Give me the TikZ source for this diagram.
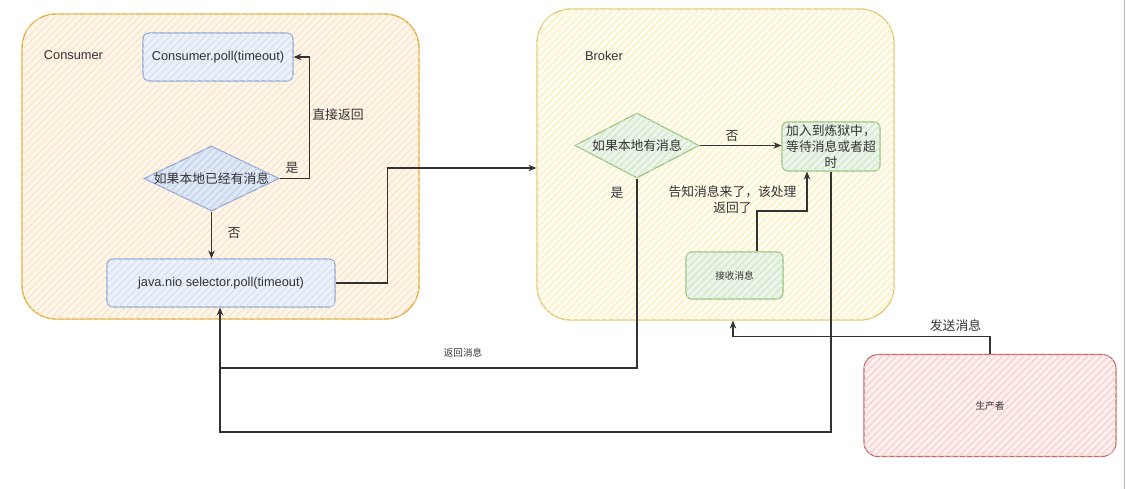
\documentclass[tikz,border=0pt]{standalone}
\usepackage{fontspec}
\setmainfont{Liberation Sans}
\newfontfamily\cjk{Noto Sans CJK SC}
\usetikzlibrary{patterns.meta,arrows.meta,shapes.geometric}
\definecolor{conS}{HTML}{E0AE3A}
\definecolor{conF}{HTML}{FFF6EC}
\definecolor{conH}{HTML}{FDE3C6}
\definecolor{broS}{HTML}{E2C872}
\definecolor{broF}{HTML}{FFFCF2}
\definecolor{broH}{HTML}{FBF0C4}
\definecolor{bluS}{HTML}{8DA8D2}
\definecolor{bluF}{HTML}{EDF2FA}
\definecolor{bluH}{HTML}{D6E2F5}
\definecolor{dmdF}{HTML}{E0E8F5}
\definecolor{dmdH}{HTML}{C4D3EC}
\definecolor{grnS}{HTML}{93C27C}
\definecolor{grnF}{HTML}{EDF5EA}
\definecolor{grnH}{HTML}{D2E8CC}
\definecolor{redS}{HTML}{C56A66}
\definecolor{redF}{HTML}{FDF0EF}
\definecolor{redH}{HTML}{F8CFCD}
\definecolor{ink}{HTML}{333333}
\tikzset{
  x=1pt, y=-1pt,
  hatch/.style 2 args={fill=#1, postaction={pattern={Lines[angle=45,distance=5pt,line width=1.3pt]}, pattern color=#2}},
  container/.style={rectangle, line width=1.3pt, rounded corners=34pt, inner sep=0pt},
  box/.style={rectangle, line width=1.1pt, rounded corners=6pt, inner sep=0pt, text=ink},
  dmd/.style={diamond, line width=1.1pt, inner sep=0pt, minimum width=#1},
  lab/.style={text=ink, inner sep=1pt, font=\fontsize{12.8}{15}\selectfont},
  zh/.style={text=ink, inner sep=1pt, font=\cjk\fontsize{12.8}{16}\selectfont},
  zhs/.style={text=ink, inner sep=1pt, font=\cjk\fontsize{9.6}{12}\selectfont},
  arr/.style={draw=ink, line width=1.1pt, -{Stealth[length=8pt,width=6.5pt]}},
  ln/.style={draw=ink, line width=1.1pt},
}
\begin{document}
\begin{tikzpicture}
\useasboundingbox (0,0) rectangle (1126,489);
\fill[white] (0,0) rectangle (1126,489);
% containers
\node[container, draw=conS, hatch={conF}{conH}, minimum width=397pt, minimum height=305pt] (cons) at (220.5,166.5) {};
\node[container, draw=broS, hatch={broF}{broH}, minimum width=357pt, minimum height=311pt] (bro) at (715.5,164.5) {};
\node[lab] (consl) at (73.5,55.5) {Consumer};
\node[lab] (brol) at (604,56) {Broker};
% consumer side
\node[box, draw=bluS, hatch={bluF}{bluH}, minimum width=150pt, minimum height=48pt, font=\fontsize{12.8}{15}\selectfont] (poll) at (218,57) {Consumer.poll(timeout)};
\node[dmd=135pt, minimum height=65pt, draw=bluS, hatch={dmdF}{dmdH}] (cdia) at (211.5,178.5) {};
\node[zh] (cdiat) at (cdia.center) {如果本地已经有消息};
\node[box, draw=bluS, hatch={bluF}{bluH}, minimum width=228pt, minimum height=48pt, font=\fontsize{12.8}{15}\selectfont] (sel) at (221,283) {java.nio selector.poll(timeout)};
% broker side
\node[dmd=124pt, minimum height=65pt, draw=grnS, hatch={grnF}{grnH}] (bdia) at (637,145.5) {};
\node[zh] (bdiat) at (bdia.center) {如果本地有消息};
\node[box, draw=grnS, hatch={grnF}{grnH}, minimum width=98pt, minimum height=49pt] (purg) at (831,146.5) {};
\node[zh, align=center, text width=96pt] (purgt) at (purg.center) {加入到炼狱中，\\等待消息或者超\\时};
\node[box, draw=grnS, hatch={grnF}{grnH}, minimum width=97pt, minimum height=47pt, font=\cjk\fontsize{9.6}{12}\selectfont] (recv) at (734.5,275.5) {接收消息};
% producer
\node[box, draw=redS, hatch={redF}{redH}, rounded corners=14pt, minimum width=252pt, minimum height=102pt, font=\cjk\fontsize{9.6}{12}\selectfont] (prod) at (990,405.5) {生产者};
% connectors
\draw[arr] (cdia.east) -- ++(30,0) |- (poll.east);
\draw[arr] (cdia.south) -- (cdia.south |- sel.north);
\draw[arr] (sel.east) -- ++(52,0) |- ([yshift=-3.5pt]bro.west);
\draw[arr] (bdia.east) -- (bdia.east -| purg.west);
\coordinate (ret1) at (220,368);
\coordinate (ret2) at (220,432);
\draw[ln] (bdia.south) |- (ret1);
\draw[ln] (purg.south) |- (ret2) -- (ret1);
\draw[arr] (ret1) -- (ret1 |- sel.south);
\draw[arr] ([xshift=22.5pt]recv.north) -- ++(0,-40.5) -| ([xshift=-24pt]purg.south);
\draw[arr] (prod.north) -- ++(0,-17.5) -| ([xshift=17.5pt]bro.south);
% labels
\node[zh] (l1) at (292,168) {是};
\node[zh] (l2) at (338,115) {直接返回};
\node[zh] (l3) at (234,233) {否};
\node[zh] (l4) at (732,136) {否};
\node[zh] (l5) at (617,193) {是};
\node[zh, align=center] (l6) at (732.5,199.5) {告知消息来了，该处理\\返回了};
\node[zhs] (l7) at (463,353) {返回消息};
\node[zh] (l8) at (955.5,326) {发送消息};
% right edge line
\draw[gray!55, line width=1pt] (1124.5,0) -- (1124.5,489);
\end{tikzpicture}
\end{document}
